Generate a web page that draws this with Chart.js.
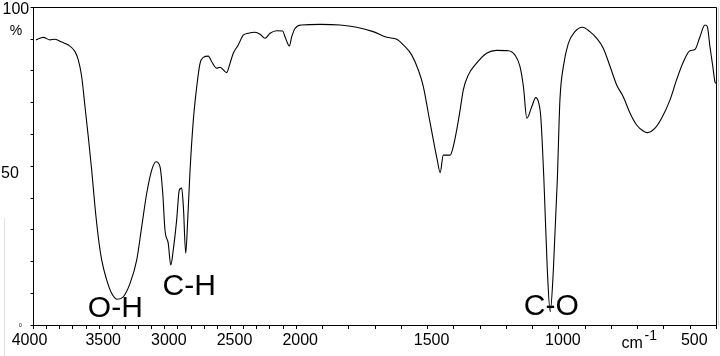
<!DOCTYPE html>
<html><head><meta charset="utf-8">
<script src="https://cdn.jsdelivr.net/npm/chart.js@4"></script>
<style>html,body{margin:0;padding:0;background:#fff}canvas{display:block}</style>
</head><body>
<canvas id="c" width="720" height="356"></canvas>
<script>
const wavenumbers = [3981,3925,3874,3836,3785,3735,3684,3659,3633,3608,
  3583,3557,3532,3507,3481,3443,3405,3362,3316,3265,
  3214,3176,3138,3100,3067,3037,3016,2999,2974,2955,
  2936,2910,2890,2872,2859,2841,2826,2808,2783,2757,
  2732,2707,2669,2643,2605,2580,2529,2504,2479,2441,
  2403,2365,2314,2275,2237,2199,2148,2103,2085,2052,
  2034,2009,1979,1909,1833,1770,1707,1655,1617,1592,
  1560,1535,1516,1497,1478,1463,1452,1440,1414,1402,
  1389,1376,1364,1345,1319,1275,1237,1192,1167,1148,
  1135,1122,1103,1088,1078,1069,1057,1044,1033,1021,
  1006,996,983,964,939,910,882,856,831,805,
  780,755,729,704,679,663,634,609,577,552,
  526,501,482,463,444,435,425,414,406,402];
const transmittance = [89.8,90.6,89.8,90.0,89.1,88.2,86.1,83.5,78.2,68.8,
  59.3,48.8,37.3,27.8,20.5,14.2,10.0,8.1,8.9,13.1,
  20.5,31.0,41.5,48.8,51.4,49.9,41.5,29.9,25.7,18.9,
  23.6,33.1,42.5,43.1,37.3,22.6,33.1,48.8,64.6,75.1,
  82.4,84.3,84.7,82.9,80.9,81.2,79.5,82.4,85.6,88.2,
  91.3,91.9,92.2,91.6,90.3,91.9,92.7,92.6,90.8,87.9,
  90.8,93.4,94.5,94.7,94.5,93.8,92.4,90.6,90.0,88.2,
  85.0,80.3,75.1,66.7,58.3,52.0,48.0,53.5,53.5,56.2,
  61.4,67.7,74.0,78.7,81.9,85.6,86.5,86.4,85.0,81.4,
  75.1,65.1,68.8,71.6,70.3,65.6,45.7,17.3,4.2,17.3,
  45.7,70.9,81.4,88.7,92.4,93.8,92.4,90.3,87.2,81.4,
  75.6,71.9,66.7,63.0,61.1,60.6,62.0,65.1,70.9,77.2,
  82.9,86.4,86.8,90.8,94.5,94.0,87.7,81.4,76.6,76.1];
const xTickLabels = [4000,3500,3000,2500,2000,1500,1000,500];
const yTickLabels = [100,50,0];
const bandLabels = ['O-H','C-H','C-O'];
const bandWavenumbers = [3377,2814,1029];
const bandLevels = [2.6,9.45,3.15];

// IR axis: scale halves above 2000 cm-1
const BREAK = 2000;
const toAxis = w => w > BREAK ? BREAK + (w - BREAK) / 2 : w;
const fromAxis = v => v > BREAK ? BREAK + (v - BREAK) * 2 : v;
const FONT = 'Arial, "Liberation Sans", Helvetica, sans-serif';

const tickWavenumbers = [];
for (let w = 4000; w >= 400; w -= 100) tickWavenumbers.push(w);

const yLabelStyle = {
  100: {size: 16, dx: 2.5, dy: 6},
  50: {size: 16, dx: 1, dy: 11.5},
  0: {size: 5, dx: 19, dy: 1.8}
};

const decor = {
  id: 'decor',
  afterDraw(chart) {
    const {ctx, chartArea: a, scales: {x, y}} = chart;
    ctx.save();
    const L = Math.floor(a.left) + 0.5, R = Math.floor(a.right) + 0.5;
    const T = Math.floor(a.top) + 0.5, B = Math.floor(a.bottom) + 0.5;
    ctx.strokeStyle = '#000'; ctx.lineWidth = 1;
    ctx.beginPath();
    ctx.moveTo(L, T); ctx.lineTo(R, T); ctx.lineTo(R, B);
    ctx.stroke();
    ctx.strokeStyle = '#cfcfcf';
    ctx.beginPath(); ctx.moveTo(R + 2, T); ctx.lineTo(R + 2, B); ctx.stroke();
    ctx.strokeStyle = '#e2e2e2';
    ctx.beginPath(); ctx.moveTo(4.5, 218); ctx.lineTo(4.5, 356); ctx.stroke();

    ctx.fillStyle = '#000';
    ctx.textAlign = 'left'; ctx.textBaseline = 'alphabetic';
    yTickLabels.forEach(v => {
      const s = yLabelStyle[v];
      ctx.font = s.size + 'px ' + FONT;
      ctx.fillText(String(v), s.dx, y.getPixelForValue(v) + s.dy);
    });
    ctx.font = '14px ' + FONT;
    ctx.textAlign = 'center';
    ctx.fillText('%', 16, y.getPixelForValue(100) + 27.5);

    ctx.font = '30px ' + FONT;
    ctx.textAlign = 'center';
    bandLabels.forEach((t, i) => {
      ctx.fillText(t, x.getPixelForValue(toAxis(bandWavenumbers[i])), y.getPixelForValue(bandLevels[i]));
    });

    ctx.textAlign = 'left';
    ctx.font = '16px ' + FONT;
    ctx.fillText('cm', a.right - 95, a.bottom + 23);
    ctx.font = '14px ' + FONT;
    ctx.fillText('-1', a.right - 72, a.bottom + 15);
    ctx.restore();
  }
};

new Chart(document.getElementById('c'), {
  type: 'line',
  data: {
    datasets: [{
      data: wavenumbers.map((w, i) => ({x: toAxis(w), y: transmittance[i]})),
      borderColor: '#000',
      borderWidth: 1.1,
      pointRadius: 0,
      cubicInterpolationMode: 'monotone',
      fill: false
    }]
  },
  options: {
    responsive: false,
    animation: false,
    layout: {padding: {top: 7.5, right: 3.5, left: 0, bottom: 0}},
    plugins: {legend: {display: false}, tooltip: {enabled: false}},
    scales: {
      x: {
        type: 'linear',
        min: toAxis(400), max: toAxis(4000),
        reverse: true,
        afterBuildTicks: s => { s.ticks = tickWavenumbers.map(w => ({value: toAxis(w)})); },
        afterFit: s => { s.height = 31; },
        grid: {drawOnChartArea: false, drawTicks: true, tickLength: 4, color: '#000'},
        border: {display: true, color: '#000', width: 1},
        ticks: {
          autoSkip: false, maxRotation: 0, minRotation: 0,
          padding: 2.4, labelOffset: 4, color: '#000',
          font: {family: FONT, size: 16},
          callback: v => {
            const w = Math.round(fromAxis(v));
            if (!xTickLabels.includes(w)) return '';
            return w === 4000 ? String(w) + '\u2002\u2002' : String(w);
          }
        }
      },
      y: {
        type: 'linear', min: 0, max: 100,
        afterFit: s => { s.width = 33.5; },
        grid: {drawOnChartArea: false, drawTicks: true, tickLength: 3, color: '#000'},
        border: {display: true, color: '#000', width: 1},
        ticks: {stepSize: 10, callback: () => '', padding: 0}
      }
    }
  },
  plugins: [decor]
});
</script>
</body></html>
